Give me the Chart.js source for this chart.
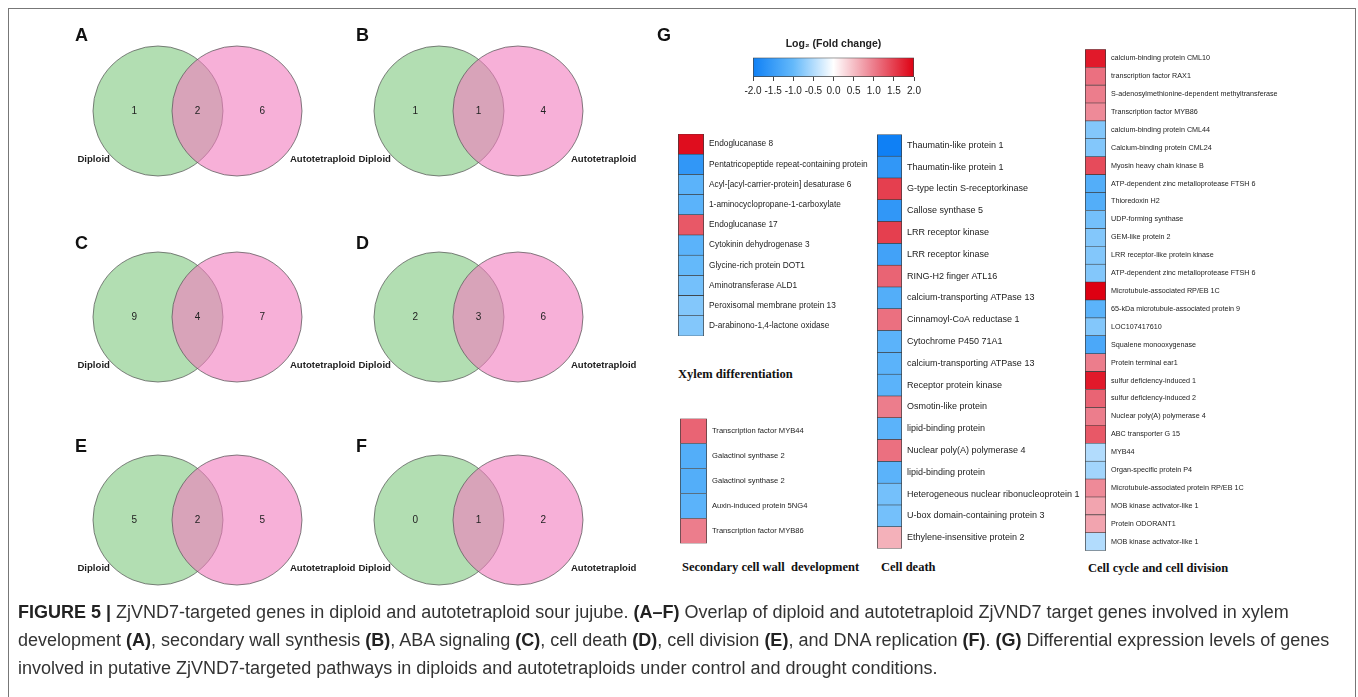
<!DOCTYPE html>
<html>
<head>
<meta charset="utf-8">
<script src="https://cdn.jsdelivr.net/npm/chart.js@4.4.1/dist/chart.umd.min.js"></script>
<style>
  body { margin: 0; width: 1358px; height: 697px; overflow: hidden; background: #fff; position: relative;
         font-family: 'Liberation Sans', Arial, sans-serif; }
  canvas { position: absolute; }
  .frame { position: absolute; left: 8px; top: 8px; width: 1346px; height: 740px; border: 1px solid #777; }
  .letter { position: absolute; font: bold 18px 'Liberation Sans', Arial, sans-serif; line-height: 18px; color: #111; }
  .cat { position: absolute; font: bold 12.5px 'Liberation Serif', 'Times New Roman', serif; line-height: 14px; white-space: pre; color: #111; }
  .caption { position: absolute; left: 18px; top: 598px; font-size: 18px; line-height: 28px; color: #333; white-space: nowrap; }
  .caption b { color: #222; }
</style>
</head>
<body>
<div class="frame"></div>

<canvas id="vennA" width="300" height="190" style="left:60px;top:20px"></canvas>
<canvas id="vennB" width="300" height="190" style="left:341px;top:20px"></canvas>
<canvas id="vennC" width="300" height="190" style="left:60px;top:226px"></canvas>
<canvas id="vennD" width="300" height="190" style="left:341px;top:226px"></canvas>
<canvas id="vennE" width="300" height="190" style="left:60px;top:429px"></canvas>
<canvas id="vennF" width="300" height="190" style="left:341px;top:429px"></canvas>

<div class="letter" style="left:75px;top:26px">A</div>
<div class="letter" style="left:356px;top:26px">B</div>
<div class="letter" style="left:75px;top:234px">C</div>
<div class="letter" style="left:356px;top:234px">D</div>
<div class="letter" style="left:75px;top:437px">E</div>
<div class="letter" style="left:356px;top:437px">F</div>
<div class="letter" style="left:657px;top:26px">G</div>

<canvas id="colorbar" width="200" height="62" style="left:735px;top:38px"></canvas>
<canvas id="heatXylem" width="200" height="222" style="left:676px;top:124px"></canvas>
<canvas id="heatWall" width="200" height="144" style="left:678px;top:409px"></canvas>
<canvas id="heatDeath" width="215" height="435" style="left:875px;top:124px"></canvas>
<canvas id="heatCycle" width="265" height="520" style="left:1083px;top:40px"></canvas>

<div class="cat" style="left:678px;top:367px">Xylem differentiation</div>
<div class="cat" style="left:682px;top:560px">Secondary cell wall  development</div>
<div class="cat" style="left:881px;top:560px">Cell death</div>
<div class="cat" style="left:1088px;top:561px">Cell cycle and cell division</div>

<div class="caption">
<b>FIGURE 5 |</b> ZjVND7-targeted genes in diploid and autotetraploid sour jujube. <b>(A–F)</b> Overlap of diploid and autotetraploid ZjVND7 target genes involved in xylem<br>
development <b>(A)</b>, secondary wall synthesis <b>(B)</b>, ABA signaling <b>(C)</b>, cell death <b>(D)</b>, cell division <b>(E)</b>, and DNA replication <b>(F)</b>. <b>(G)</b> Differential expression levels of genes<br>
involved in putative ZjVND7-targeted pathways in diploids and autotetraploids under control and drought conditions.
</div>

<script>
Chart.defaults.font.family = "'Liberation Sans', Arial, sans-serif";
Chart.defaults.animation = false;

// Venn panels A-F
var vennPanels = ['A', 'B', 'C', 'D', 'E', 'F'];
var diploidOnly = [1, 1, 9, 2, 5, 0];
var sharedGenes = [2, 1, 4, 3, 2, 1];
var tetraOnly = [6, 4, 7, 6, 5, 2];
var setNames = ['Diploid', 'Autotetraploid'];

// Heatmap G
var colorTicks = [-2, -1.5, -1, -0.5, 0, 0.5, 1, 1.5, 2];

var xylemGenes = ['Endoglucanase 8', 'Pentatricopeptide repeat-containing protein', 'Acyl-[acyl-carrier-protein] desaturase 6',
  '1-aminocyclopropane-1-carboxylate', 'Endoglucanase 17', 'Cytokinin dehydrogenase 3', 'Glycine-rich protein DOT1',
  'Aminotransferase ALD1', 'Peroxisomal membrane protein 13', 'D-arabinono-1,4-lactone oxidase'];
var xylemFC = [1.9, -1.6, -1.1, -1.1, 1.3, -1.1, -1.0, -0.9, -0.8, -0.8];

var wallGenes = ['Transcription factor MYB44', 'Galactinol synthase 2', 'Galactinol synthase 2',
  'Auxin-induced protein 5NG4', 'Transcription factor MYB86'];
var wallFC = [1.2, -1.2, -1.2, -1.1, 1.0];

var deathGenes = ['Thaumatin-like protein 1', 'Thaumatin-like protein 1', 'G-type lectin S-receptorkinase', 'Callose synthase 5',
  'LRR receptor kinase', 'LRR receptor kinase', 'RING-H2 finger ATL16', 'calcium-transporting ATPase 13',
  'Cinnamoyl-CoA reductase 1', 'Cytochrome P450 71A1', 'calcium-transporting ATPase 13', 'Receptor protein kinase',
  'Osmotin-like protein', 'lipid-binding protein', 'Nuclear poly(A) polymerase 4', 'lipid-binding protein',
  'Heterogeneous nuclear ribonucleoprotein 1', 'U-box domain-containing protein 3', 'Ethylene-insensitive protein 2'];
var deathFC = [-2.0, -1.6, 1.5, -1.6, 1.5, -1.4, 1.2, -1.2, 1.1, -1.1, -1.1, -1.1, 1.0, -1.1, 1.1, -1.1, -0.9, -0.9, 0.6];

var cycleGenes = ['calcium-binding protein CML10', 'transcription factor RAX1', 'S-adenosylmethionine-dependent methyltransferase',
  'Transcription factor MYB86', 'calcium-binding protein CML44', 'Calcium-binding protein CML24', 'Myosin heavy chain kinase B',
  'ATP-dependent zinc metalloprotease FTSH 6', 'Thioredoxin H2', 'UDP-forming synthase', 'GEM-like protein 2',
  'LRR receptor-like protein kinase', 'ATP-dependent zinc metalloprotease FTSH 6', 'Microtubule-associated RP/EB 1C',
  '65-kDa microtubule-associated protein 9', 'LOC107417610', 'Squalene monooxygenase', 'Protein terminal ear1',
  'sulfur deficiency-induced 1', 'sulfur deficiency-induced 2', 'Nuclear poly(A) polymerase 4', 'ABC transporter G 15',
  'MYB44', 'Organ-specific protein P4', 'Microtubule-associated protein RP/EB 1C', 'MOB kinase activator-like 1',
  'Protein ODORANT1', 'MOB kinase activator-like 1'];
var cycleFC = [1.8, 1.1, 1.0, 0.9, -0.8, -0.8, 1.4, -1.2, -1.2, -0.9, -0.8, -0.8, -0.8, 2.0,
  -1.1, -0.8, -1.3, 1.0, 1.8, 1.2, 1.0, 1.3, -0.5, -0.6, 0.9, 0.7, 0.7, -0.5];

// colour scale of the key
var scaleStops = [
  [-2, [15, 128, 245]],
  [-1, [100, 185, 250]],
  [0, [255, 255, 255]],
  [1, [236, 125, 140]],
  [2, [222, 0, 18]]
];

function heatColor(v) {
  v = Math.max(-2, Math.min(2, v));
  for (var i = 1; i < scaleStops.length; i++) {
    if (v <= scaleStops[i][0]) {
      var a = scaleStops[i - 1], b = scaleStops[i];
      var t = (v - a[0]) / (b[0] - a[0]);
      var c = a[1].map(function(ch, k) { return Math.round(ch + (b[1][k] - ch) * t); });
      return 'rgb(' + c.join(',') + ')';
    }
  }
  return 'rgb(' + scaleStops[scaleStops.length - 1][1].join(',') + ')';
}

var vennText = {
  id: 'vennText',
  afterDatasetsDraw: function(chart) {
    var o = chart.options.plugins.vennText;
    var ctx = chart.ctx, xs = chart.scales.x, ys = chart.scales.y;
    var spots = [-0.3, 0.5, 1.32];
    ctx.save();
    ctx.fillStyle = '#222';
    ctx.textBaseline = 'middle';
    ctx.textAlign = 'center';
    ctx.font = "10px 'Liberation Sans', Arial, sans-serif";
    o.counts.forEach(function(n, i) {
      ctx.fillText(n, xs.getPixelForValue(spots[i]), ys.getPixelForValue(0));
    });
    ctx.textAlign = 'left';
    ctx.font = "bold 9.6px 'Liberation Sans', Arial, sans-serif";
    ctx.fillText(setNames[0], xs.getPixelForValue(-1.02), ys.getPixelForValue(-0.61));
    ctx.fillText(setNames[1], xs.getPixelForValue(1.67), ys.getPixelForValue(-0.61));
    ctx.restore();
  }
};

function makeVenn(i) {
  var circle = function(idx, fill) {
    return {
      data: [{ x: idx, y: 0 }],
      pointRadius: 65,
      pointHoverRadius: 65,
      backgroundColor: fill,
      borderColor: 'rgba(90,90,90,0.75)',
      borderWidth: 1
    };
  };
  // first dataset is drawn last, so the pink set sits on top of the green one
  new Chart(document.getElementById('venn' + vennPanels[i]), {
    type: 'scatter',
    data: {
      datasets: [circle(1, 'rgba(242,123,190,0.6)'), circle(0, 'rgba(127,200,127,0.6)')]
    },
    options: {
      responsive: false,
      events: [],
      layout: { autoPadding: false, padding: 0 },
      scales: {
        x: { display: false, min: -1.2405, max: 2.557 },
        y: { display: false, min: -1.253, max: 1.152 }
      },
      plugins: {
        legend: { display: false },
        tooltip: { enabled: false },
        vennText: { counts: [diploidOnly[i], sharedGenes[i], tetraOnly[i]] }
      }
    },
    plugins: [vennText]
  });
}

for (var i = 0; i < vennPanels.length; i++) makeVenn(i);

function makeHeat(id, genes, values, cellW, fontSize) {
  var canvas = document.getElementById(id);
  var axisW = canvas.width - 2 - cellW;
  new Chart(canvas, {
    type: 'bar',
    data: {
      labels: genes,
      datasets: [{
        data: values.map(function() { return 1; }),
        backgroundColor: values.map(heatColor),
        borderColor: '#3a3a3a',
        borderWidth: { left: 1, right: 1, top: 0.6, bottom: 0.6 },
        borderSkipped: false,
        barPercentage: 1,
        categoryPercentage: 1
      }]
    },
    options: {
      indexAxis: 'y',
      responsive: false,
      events: [],
      layout: { autoPadding: false, padding: { left: 2, top: 2, bottom: 2, right: 0 } },
      scales: {
        x: { display: false, min: 0, max: 1 },
        y: {
          position: 'right',
          grid: { display: false, drawTicks: false },
          border: { display: false },
          ticks: { autoSkip: false, padding: 5, color: '#222', font: { size: fontSize } },
          afterFit: function(s) { s.width = axisW; }
        }
      },
      plugins: { legend: { display: false }, tooltip: { enabled: false } }
    }
  });
}

makeHeat('heatXylem', xylemGenes, xylemFC, 26, 8.3);
makeHeat('heatWall', wallGenes, wallFC, 27, 7.6);
makeHeat('heatDeath', deathGenes, deathFC, 25, 9);
makeHeat('heatCycle', cycleGenes, cycleFC, 21, 7.2);

// colour key
new Chart(document.getElementById('colorbar'), {
  type: 'bar',
  data: {
    labels: ['key'],
    datasets: [{
      data: [[colorTicks[0], colorTicks[colorTicks.length - 1]]],
      backgroundColor: function(c) {
        var a = c.chart.chartArea;
        if (!a) return null;
        var g = c.chart.ctx.createLinearGradient(a.left, 0, a.right, 0);
        scaleStops.forEach(function(s) { g.addColorStop((s[0] + 2) / 4, heatColor(s[0])); });
        return g;
      },
      borderColor: '#444',
      borderWidth: 1,
      borderSkipped: false,
      barPercentage: 1,
      categoryPercentage: 1
    }]
  },
  options: {
    indexAxis: 'y',
    responsive: false,
    events: [],
    layout: { autoPadding: false, padding: { left: 18, right: 21, top: 0, bottom: 0 } },
    scales: {
      x: {
        type: 'linear', min: -2, max: 2,
        afterBuildTicks: function(s) { s.ticks = colorTicks.map(function(v) { return { value: v }; }); },
        ticks: { autoSkip: false, maxRotation: 0, padding: 4, color: '#222', font: { size: 10 },
                 callback: function(v) { return v.toFixed(1); } },
        grid: { drawOnChartArea: false, drawTicks: true, tickLength: 4, color: '#444' },
        border: { display: false },
        afterFit: function(s) { s.height = 23; }
      },
      y: { display: false }
    },
    plugins: {
      legend: { display: false },
      tooltip: { enabled: false },
      title: { display: true, text: 'Log₂ (Fold change)', color: '#222', font: { size: 10.5, weight: 'bold' },
               padding: { top: 0, bottom: 7 } }
    }
  }
});
</script>
</body>
</html>
